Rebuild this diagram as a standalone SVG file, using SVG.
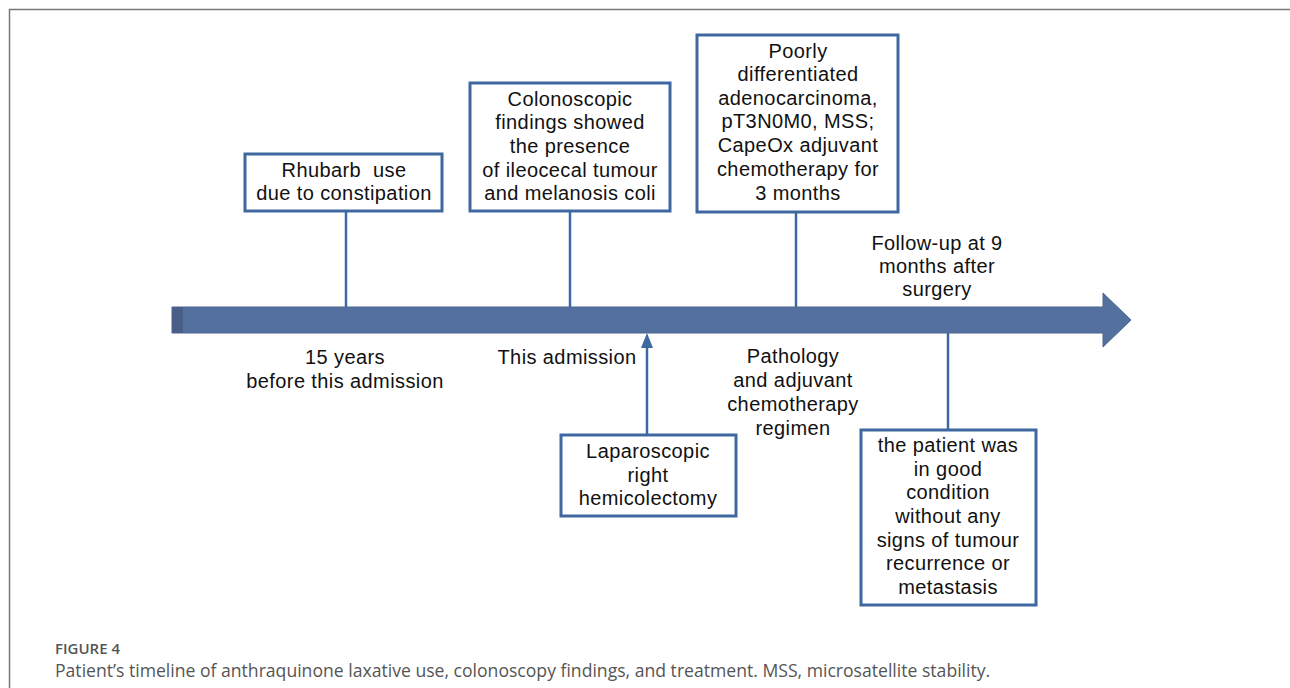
<svg xmlns="http://www.w3.org/2000/svg" width="1290" height="688" viewBox="0 0 1290 688">
<style>
.box{fill:#fff;stroke:#3f68a0;stroke-width:3}
.ln{stroke:#3f68a0;stroke-width:2.5;fill:none}
.t{font-family:"Liberation Sans",Arial,sans-serif;font-size:20px;letter-spacing:0.4px;fill:#111;text-anchor:middle;white-space:pre}
.cap{font-family:"Open Sans","Liberation Sans",sans-serif;fill:#555}
</style>
<rect width="1290" height="688" fill="#fff"/>
<path d="M9.5,688 V9.5 H1290" fill="none" stroke="#777" stroke-width="1.5"/>
<g id="timeline">
<path d="M172,307 H1103 V293 L1131,320 L1103,347 V333 H172 Z" fill="#53709f" stroke="#4a6590" stroke-width="1"/>
<rect x="172" y="307" width="11" height="26" fill="#4a5f88"/>
</g>
<g id="connectors">
<line class="ln" x1="346" y1="211" x2="346" y2="307"/>
<line class="ln" x1="570" y1="211" x2="570" y2="307"/>
<line class="ln" x1="796" y1="212" x2="796" y2="307"/>
<line class="ln" x1="948" y1="333" x2="948" y2="430"/>
<line class="ln" x1="647" y1="435" x2="647" y2="346"/>
<path d="M641,348 L647,333 L653,348 Z" fill="#3f68a0"/>
</g>
<g id="n1">
<rect class="box" x="245" y="154" width="197" height="57"/>
<text class="t" xml:space="preserve"><tspan x="344" y="177">Rhubarb  use</tspan><tspan x="344" y="200">due to constipation</tspan></text>
</g>
<g id="n2">
<rect class="box" x="470" y="83" width="200" height="128"/>
<text class="t"><tspan x="570" y="106">Colonoscopic</tspan><tspan x="570" y="129">findings showed</tspan><tspan x="570" y="153">the presence</tspan><tspan x="570" y="177">of ileocecal tumour</tspan><tspan x="570" y="200">and melanosis coli</tspan></text>
</g>
<g id="n3">
<rect class="box" x="697" y="35" width="201" height="177"/>
<text class="t"><tspan x="798" y="58">Poorly</tspan><tspan x="798" y="81">differentiated</tspan><tspan x="798" y="105">adenocarcinoma,</tspan><tspan x="798" y="128">pT3N0M0, MSS;</tspan><tspan x="798" y="152">CapeOx adjuvant</tspan><tspan x="798" y="176">chemotherapy for</tspan><tspan x="798" y="200">3 months</tspan></text>
</g>
<g id="l1">
<text class="t"><tspan x="345" y="364">15 years</tspan><tspan x="345" y="388">before this admission</tspan></text>
</g>
<g id="l2">
<text class="t" x="567" y="364">This admission</text>
</g>
<g id="l3">
<text class="t"><tspan x="793" y="363">Pathology</tspan><tspan x="793" y="387">and adjuvant</tspan><tspan x="793" y="411">chemotherapy</tspan><tspan x="793" y="435">regimen</tspan></text>
</g>
<g id="l4">
<text class="t"><tspan x="937" y="250">Follow-up at 9</tspan><tspan x="937" y="273">months after</tspan><tspan x="937" y="296">surgery</tspan></text>
</g>
<g id="n4">
<rect class="box" x="561" y="435" width="175" height="81"/>
<text class="t"><tspan x="648" y="458">Laparoscopic</tspan><tspan x="648" y="482">right</tspan><tspan x="648" y="505">hemicolectomy</tspan></text>
</g>
<g id="n5">
<rect class="box" x="861" y="430" width="175" height="175"/>
<text class="t"><tspan x="948" y="452">the patient was</tspan><tspan x="948" y="476">in good</tspan><tspan x="948" y="499">condition</tspan><tspan x="948" y="523">without any</tspan><tspan x="948" y="547">signs of tumour</tspan><tspan x="948" y="570">recurrence or</tspan><tspan x="948" y="594">metastasis</tspan></text>
</g>
<g id="caption">
<text class="cap" x="55" y="654" font-size="15" font-weight="600" fill="#666">FIGURE 4</text>
<text class="cap" x="55" y="677" font-size="17.6">Patient’s timeline of anthraquinone laxative use, colonoscopy findings, and treatment. MSS, microsatellite stability.</text>
</g>
</svg>
